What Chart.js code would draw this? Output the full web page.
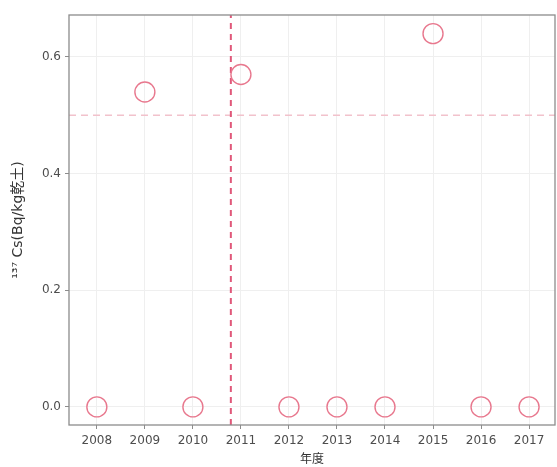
<!DOCTYPE html>
<html>
<head>
<meta charset="utf-8">
<script src="https://cdn.jsdelivr.net/npm/chart.js@4/dist/chart.umd.min.js"></script>
<style>
  html, body { margin: 0; padding: 0; background: #ffffff; }
  #wrap { width: 557px; height: 467px; }
</style>
</head>
<body>
<div id="wrap"><canvas id="c" width="557" height="467"></canvas></div>
<script>
// Survey years and measured 137Cs concentration (Bq/kg dry soil)
const years = [2008, 2009, 2010, 2011, 2012, 2013, 2014, 2015, 2016, 2017];
const cs137 = [0.00, 0.54, 0.00, 0.57, 0.00, 0.00, 0.00, 0.64, 0.00, 0.00];

// Axis ticks and ranges
const xTicks = years;
const yTicks = [0.0, 0.2, 0.4, 0.6];
const xRange = [2007.42, 2017.54];
const yRange = [-0.031, 0.672];

// Reference lines: event marker (vertical) and threshold (horizontal)
const eventYear = 2010.79;
const threshold = 0.5;

const FONT = "'DejaVu Sans', 'Noto Sans CJK JP', sans-serif";

const frame = {
  id: 'frame',
  afterDraw(chart) {
    const a = chart.chartArea, ctx = chart.ctx;
    ctx.save();
    ctx.strokeStyle = '#8c8c8c';
    ctx.lineWidth = 1.3;
    ctx.strokeRect(a.left, a.top, a.right - a.left, a.bottom - a.top);
    ctx.restore();
  }
};

new Chart(document.getElementById('c'), {
  type: 'scatter',
  data: {
    datasets: [
      {
        label: 'threshold',
        data: [{ x: xRange[0], y: threshold }, { x: xRange[1], y: threshold }],
        showLine: true,
        borderColor: '#f2c2cc',
        borderWidth: 1.4,
        borderDash: [7, 5],
        pointRadius: 0,
        order: 3
      },
      {
        label: 'event',
        data: [{ x: eventYear, y: yRange[0] }, { x: eventYear, y: yRange[1] }],
        showLine: true,
        borderColor: '#e0587a',
        borderWidth: 2,
        borderDash: [6, 5],
        pointRadius: 0,
        order: 2
      },
      {
        label: '137Cs',
        data: years.map((y, i) => ({ x: y, y: cs137[i] })),
        backgroundColor: 'rgba(0,0,0,0)',
        borderColor: '#e8788e',
        borderWidth: 1.4,
        pointRadius: 10,
        pointHoverRadius: 10,
        order: 1
      }
    ]
  },
  options: {
    responsive: false,
    animation: false,
    events: [],
    layout: { autoPadding: false, padding: { top: 15, right: 2, left: 0, bottom: 0 } },
    plugins: { legend: { display: false }, tooltip: { enabled: false } },
    scales: {
      x: {
        type: 'linear',
        min: xRange[0],
        max: xRange[1],
        afterBuildTicks: s => { s.ticks = xTicks.map(v => ({ value: v })); },
        afterFit: s => { s.height = 42; s.paddingLeft = 0; s.paddingRight = 0; },
        grid: { color: '#efefef', lineWidth: 1, tickColor: '#8c8c8c', tickLength: 4, drawTicks: true },
        border: { display: false },
        ticks: {
          color: '#4d4d4d',
          font: { family: FONT, size: 12 },
          padding: 5,
          maxRotation: 0,
          callback: v => String(v)
        },
        title: {
          display: true,
          text: '年度',
          color: '#333333',
          font: { family: FONT, size: 12 },
          padding: { top: 0, bottom: 0 }
        }
      },
      y: {
        type: 'linear',
        min: yRange[0],
        max: yRange[1],
        afterBuildTicks: s => { s.ticks = yTicks.map(v => ({ value: v })); },
        afterFit: s => { s.width = 69; s.paddingTop = 0; s.paddingBottom = 0; },
        grid: { color: '#efefef', lineWidth: 1, tickColor: '#8c8c8c', tickLength: 4, drawTicks: true },
        border: { display: false },
        ticks: {
          color: '#4d4d4d',
          font: { family: FONT, size: 12 },
          padding: 4,
          callback: v => v.toFixed(1)
        },
        title: {
          display: true,
          text: '¹³⁷ Cs(Bq/kg乾土)',
          color: '#333333',
          font: { family: FONT, size: 14 },
          padding: { top: 10, bottom: 0 }
        }
      }
    }
  },
  plugins: [frame]
});
</script>
</body>
</html>
